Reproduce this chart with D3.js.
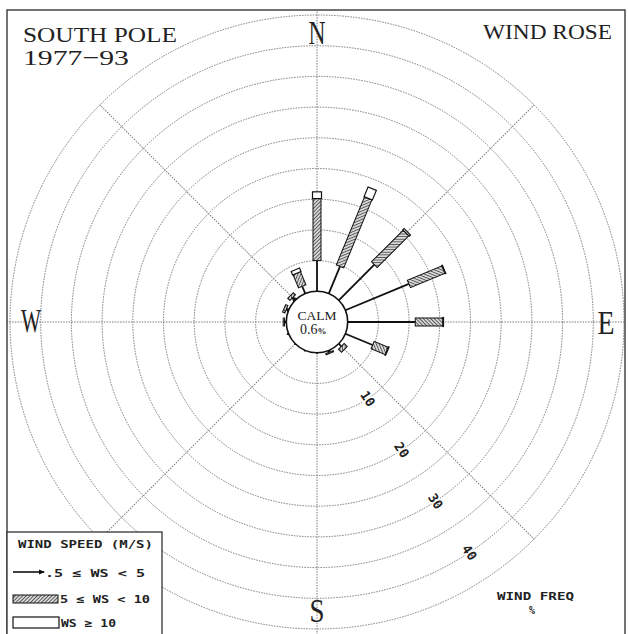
<!DOCTYPE html>
<meta charset="utf-8">
<style>
  body { margin: 0; background: #fff; }
  .ring { fill: none; stroke: #7a7a7a; stroke-width: 1; stroke-dasharray: 1.5,1.2; }
  .spoke { stroke: #7a7a7a; stroke-width: 1; stroke-dasharray: 1.5,1.2; }
  .serif { font-family: "Liberation Serif", "DejaVu Serif", serif; fill: #222; }
  .mono { font-family: "DejaVu Sans Mono", "Liberation Mono", monospace; font-weight: bold; fill: #222; }
</style>
<body>
<script src="https://cdn.jsdelivr.net/npm/d3@7"></script>
<script>
  // sixteen directions, clockwise from north
  var directions = ["N", "NNE", "NE", "ENE", "E", "ESE", "SE", "SSE",
                    "S", "SSW", "SW", "WSW", "W", "WNW", "NW", "NNW"];
  // frequency (%) per speed class
  var freqLow  = [5.0, 4.8, 8.2, 11.2, 11.0, 4.8, 0.6, 0.3, 0.1, 0.1, 0.1, 0.2, 0.3, 0.4, 0.6, 1.3];
  var freqMid  = [10.1, 12.0, 7.3, 6.1, 4.5, 2.5, 0.7, 0.2, 0, 0, 0, 0, 0.2, 0.4, 0.5, 2.3];
  var freqHigh = [1.1, 1.7, 0.3, 0.1, 0.1, 0.1, 0, 0, 0, 0, 0, 0, 0, 0, 0, 0.6];
  var calmPct = 0.6;
  var ringValues = [5, 10, 15, 20, 25, 30, 35, 40, 45];
  var ringLabels = [10, 20, 30, 40];
  var legendLabels = [".5 \u2264 WS < 5", "5 \u2264 WS < 10", "WS \u2265 10"];

  var width = 628, height = 634;
  var cx = 317, cy = 322;

  var svg = d3.select("body").append("svg")
    .attr("width", width)
    .attr("height", height);

  var defs = svg.append("defs");
  var hatch = defs.append("pattern")
    .attr("id", "hatch")
    .attr("patternUnits", "userSpaceOnUse")
    .attr("width", 2.6).attr("height", 2.6)
    .attr("patternTransform", "rotate(45)");
  hatch.append("rect").attr("width", 2.6).attr("height", 2.6).attr("fill", "#d8d8d8");
  hatch.append("line").attr("x1", 0).attr("y1", 0).attr("x2", 0).attr("y2", 2.6)
    .attr("stroke", "#222").attr("stroke-width", 1.3);

  defs.append("clipPath").attr("id", "frameClip")
    .append("rect").attr("x", 7).attr("y", 10).attr("width", 618).attr("height", 640);

  // radius scale: calm circle is the zero ring
  var r = d3.scaleLinear().domain([0, 45]).range([30.7, 307]);

  var plot = svg.append("g").attr("clip-path", "url(#frameClip)");
  var g = plot.append("g").attr("transform", "translate(" + cx + "," + cy + ")");

  // rings
  g.selectAll(".ring").data(ringValues).enter().append("circle")
    .attr("class", "ring")
    .attr("r", function(d) { return r(d); });

  // spokes every 45 degrees; cardinal ones run to the frame
  var spokeAngles = d3.range(0, 360, 45);
  g.selectAll(".spoke").data(spokeAngles).enter().append("line")
    .attr("class", "spoke")
    .attr("transform", function(d) { return "rotate(" + d + ")"; })
    .attr("x1", 0).attr("y1", -r(0))
    .attr("x2", 0).attr("y2", function(d) { return d % 90 === 0 ? -340 : -r(45); });

  // ring labels along the SSE-ish radial
  var labelAngle = 146.5;
  g.selectAll(".rlab").data(ringLabels).enter().append("text")
    .attr("class", "mono")
    .attr("font-size", 13)
    .attr("font-weight", "normal")
    .attr("text-anchor", "middle")
    .attr("dy", "0.35em")
    .attr("stroke", "#fff").attr("stroke-width", 3).attr("paint-order", "stroke")
    .attr("transform", function(d) {
      var a = labelAngle * Math.PI / 180;
      return "translate(" + (r(d) * Math.sin(a)) + "," + (-r(d) * Math.cos(a)) + ") rotate(" + (labelAngle - 90) + ")";
    })
    .text(function(d) { return d; });

  // petals
  var petals = directions.map(function(d, i) {
    return { dir: d, angle: i * 22.5, a: freqLow[i], b: freqLow[i] + freqMid[i], c: freqLow[i] + freqMid[i] + freqHigh[i] };
  });

  var petal = g.selectAll(".petal").data(petals).enter().append("g")
    .attr("class", "petal")
    .attr("transform", function(d) { return "rotate(" + d.angle + ")"; });

  petal.filter(function(d) { return d.a > 0; }).append("line")
    .attr("x1", 0).attr("y1", -r(0))
    .attr("x2", 0).attr("y2", function(d) { return -r(d.a); })
    .attr("stroke", "#111").attr("stroke-width", 1.8);

  // small arrow tip at the end of the low class
  petal.filter(function(d) { return d.a > 0 && d.b - d.a < 0.6; }).append("path")
    .attr("d", function(d) {
      var y = -r(d.a);
      return "M-3," + (y + 5) + "L0," + y + "L3," + (y + 5);
    })
    .attr("fill", "none").attr("stroke", "#111").attr("stroke-width", 1.3);

  petal.filter(function(d) { return d.b > d.a; }).append("rect")
    .attr("x", -4)
    .attr("y", function(d) { return -r(d.b); })
    .attr("width", 8)
    .attr("height", function(d) { return r(d.b) - r(d.a); })
    .attr("fill", "url(#hatch)")
    .attr("stroke", "#111").attr("stroke-width", 1);

  petal.filter(function(d) { return d.c > d.b; }).append("rect")
    .attr("x", -4.5)
    .attr("y", function(d) { return -r(d.c); })
    .attr("width", 9)
    .attr("height", function(d) { return r(d.c) - r(d.b); })
    .attr("fill", "#fff")
    .attr("stroke", "#111").attr("stroke-width", 1.2);

  // calm circle
  g.append("circle").attr("r", r(0))
    .attr("fill", "#fff").attr("stroke", "#111").attr("stroke-width", 1.6);
  g.append("text").attr("class", "serif")
    .attr("x", 0).attr("y", -2).attr("text-anchor", "middle")
    .attr("font-size", 13.5).text("CALM");
  var calmText = g.append("text").attr("class", "serif")
    .attr("x", -17).attr("y", 12).attr("font-size", 14);
  calmText.append("tspan").text(calmPct.toFixed(1));
  calmText.append("tspan").attr("font-size", 9).attr("font-weight", "bold").text("%");

  // compass letters
  var compass = [
    { t: "N", x: cx, y: 44, w: 17 },
    { t: "E", x: 606, y: 334, w: 17 },
    { t: "S", x: cx, y: 622, w: 15 },
    { t: "W", x: 31, y: 332, w: 20 }
  ];
  plot.selectAll(".compass").data(compass).enter().append("text")
    .attr("class", "serif")
    .attr("font-size", 33)
    .attr("x", function(d) { return d.x - d.w / 2; })
    .attr("y", function(d) { return d.y; })
    .attr("textLength", function(d) { return d.w; })
    .attr("lengthAdjust", "spacingAndGlyphs")
    .text(function(d) { return d.t; });

  // titles
  svg.append("text").attr("class", "serif").attr("font-size", 22)
    .attr("x", 23).attr("y", 42).attr("textLength", 154).attr("lengthAdjust", "spacingAndGlyphs")
    .text("SOUTH POLE");
  svg.append("text").attr("class", "serif").attr("font-size", 22)
    .attr("x", 23).attr("y", 65).attr("textLength", 106).attr("lengthAdjust", "spacingAndGlyphs")
    .text("1977\u221293");
  svg.append("text").attr("class", "serif").attr("font-size", 22)
    .attr("x", 612).attr("y", 39).attr("text-anchor", "end").attr("textLength", 129).attr("lengthAdjust", "spacingAndGlyphs")
    .text("WIND ROSE");

  svg.append("text").attr("class", "mono").attr("font-size", 11)
    .attr("x", 497).attr("y", 600).attr("textLength", 77).attr("lengthAdjust", "spacingAndGlyphs")
    .text("WIND FREQ");
  svg.append("text").attr("class", "mono").attr("font-size", 10)
    .attr("x", 532).attr("y", 614).attr("text-anchor", "middle").text("%");

  // frame
  svg.append("rect").attr("x", 7).attr("y", 10).attr("width", 618).attr("height", 640)
    .attr("fill", "none").attr("stroke", "#444").attr("stroke-width", 1.5);

  // legend
  var legend = svg.append("g");
  legend.append("rect").attr("x", 7).attr("y", 532).attr("width", 155).attr("height", 110)
    .attr("fill", "#fff").attr("stroke", "#333").attr("stroke-width", 1.3);
  legend.append("text").attr("class", "mono").attr("font-size", 11)
    .attr("x", 18).attr("y", 548).attr("textLength", 135).attr("lengthAdjust", "spacingAndGlyphs")
    .text("WIND SPEED (M/S)");

  legend.append("line").attr("x1", 13).attr("x2", 44).attr("y1", 572).attr("y2", 572)
    .attr("stroke", "#111").attr("stroke-width", 1.6);
  legend.append("path").attr("d", "M39,569.5L45,572L39,574.5Z").attr("fill", "#111");
  legend.append("rect").attr("x", 13).attr("y", 595).attr("width", 45).attr("height", 8)
    .attr("fill", "url(#hatch)").attr("stroke", "#111").attr("stroke-width", 1);
  legend.append("rect").attr("x", 13).attr("y", 617).attr("width", 46).attr("height", 11)
    .attr("fill", "#fff").attr("stroke", "#111").attr("stroke-width", 1.2);

  var legendPos = [{ x: 45, y: 577, w: 100 }, { x: 60, y: 603, w: 90 }, { x: 61, y: 627, w: 55 }];
  legend.selectAll(".ltext").data(legendLabels).enter().append("text")
    .attr("class", "mono").attr("font-size", 11)
    .attr("x", function(d, i) { return legendPos[i].x; })
    .attr("y", function(d, i) { return legendPos[i].y; })
    .attr("textLength", function(d, i) { return legendPos[i].w; })
    .attr("lengthAdjust", "spacingAndGlyphs")
    .text(function(d) { return d; });
</script>
</body>
